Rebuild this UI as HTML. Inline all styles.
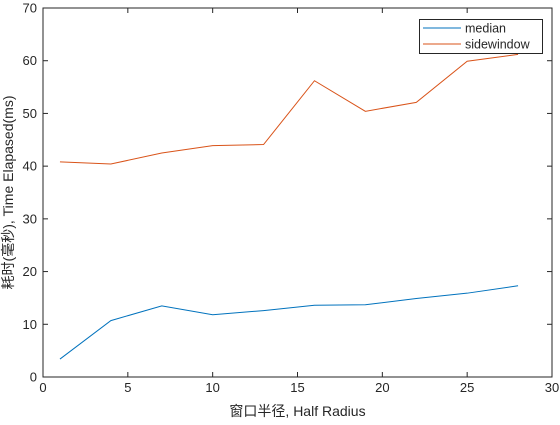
<!DOCTYPE html>
<html><head><meta charset="utf-8"><style>
body{margin:0;background:#fff;}
svg text{font-family:"Liberation Sans","Noto Sans CJK SC",sans-serif;}
</style></head><body>
<svg id="c" width="560" height="420" xmlns="http://www.w3.org/2000/svg"></svg>
<script>
const xVals=[1,4,7,10,13,16,19,22,25,28];
const medianVals=[3.4,10.7,13.5,11.8,12.6,13.6,13.7,14.9,15.9,17.3];
const sidewindowVals=[40.8,40.4,42.5,43.9,44.1,56.2,50.4,52.1,59.9,61.2];
const xTicks=[0,5,10,15,20,25,30];
const yTicks=[0,10,20,30,40,50,60,70];
const NS="http://www.w3.org/2000/svg";
const svg=document.getElementById('c');
const L=43,R=552,T=8,B=377;
const sx=v=>L+(v-0)/30*(R-L);
const sy=v=>B-(v-0)/70*(B-T);
function mk(tag,attrs,parent){const e=document.createElementNS(NS,tag);for(const k in attrs)e.setAttribute(k,attrs[k]);(parent||svg).appendChild(e);return e;}
const frame=mk('rect',{x:L,y:T,width:R-L,height:B-T,fill:'#fff',stroke:'#262626','stroke-width':1});


xTicks.forEach(t=>{
  const x=sx(t);
  mk('line',{x1:x,x2:x,y1:B,y2:B-5,stroke:'#262626'});
  mk('line',{x1:x,x2:x,y1:T,y2:T+5,stroke:'#262626'});
  const tx=mk('text',{x:x,y:B+15,'text-anchor':'middle','font-size':13,fill:'#262626'});
  tx.textContent=t;
  
  
});
yTicks.forEach(t=>{
  const y=sy(t);
  mk('line',{x1:L,x2:L+5,y1:y,y2:y,stroke:'#262626'});
  mk('line',{x1:R,x2:R-5,y1:y,y2:y,stroke:'#262626'});
  const tx=mk('text',{x:L-6,y:y+4.5,'text-anchor':'end','font-size':13,fill:'#262626'});
  tx.textContent=t;
  
  
});
function series(vals,color,name){
  const p=mk('polyline',{points:xVals.map((x,i)=>sx(x)+','+sy(vals[i])).join(' '),fill:'none',stroke:color,'stroke-width':1});
  
  
}
series(medianVals,'#0072bd','median-line');
series(sidewindowVals,'#d95319','sidewindow-line');
const xt=mk('text',{x:(L+R)/2,y:416,'text-anchor':'middle','font-size':14,fill:'#262626'});
xt.textContent='窗口半径, Half Radius';


const yt=mk('text',{x:0,y:0,'text-anchor':'middle','font-size':14,fill:'#262626',transform:'translate(13,'+((T+B)/2)+') rotate(-90)'});
yt.textContent='耗时(毫秒), Time Elapased(ms)';


const lg=mk('g',{});


mk('rect',{x:419.5,y:19.5,width:123,height:34,fill:'#fff',stroke:'#262626'},lg);
mk('line',{x1:423,x2:461,y1:28,y2:28,stroke:'#0072bd'},lg);
mk('line',{x1:423,x2:461,y1:44,y2:44,stroke:'#d95319'},lg);
const l1=mk('text',{x:465,y:32.5,'font-size':12.5,fill:'#262626'},lg);l1.textContent='median';


const l2=mk('text',{x:465,y:48.5,'font-size':12.5,fill:'#262626'},lg);l2.textContent='sidewindow';


</script>
</body></html>
